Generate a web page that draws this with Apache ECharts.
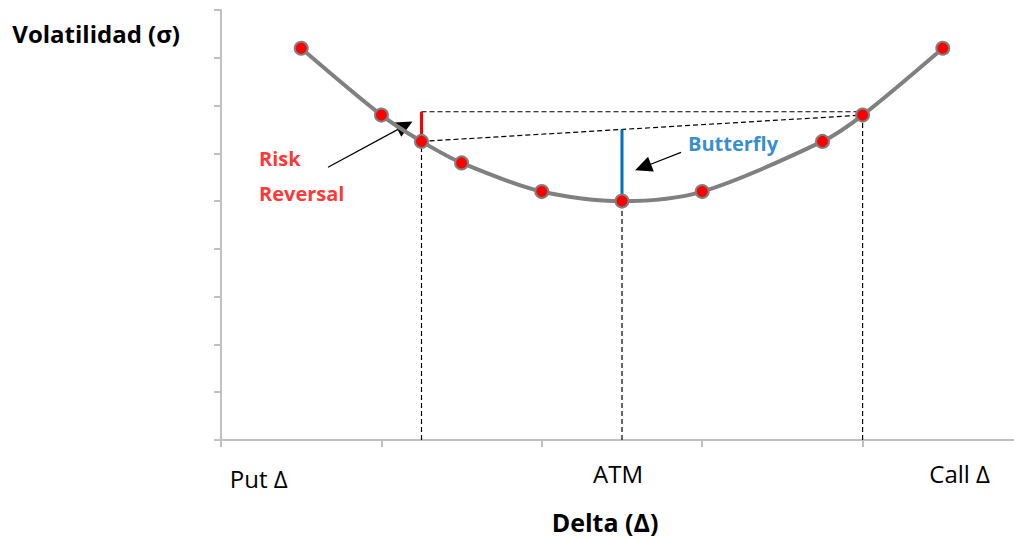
<!DOCTYPE html>
<html><head><meta charset="utf-8">
<script src="https://cdn.jsdelivr.net/npm/echarts@6/dist/echarts.min.js"></script>
<style>html,body{margin:0;padding:0;background:#fff;overflow:hidden}#c{width:1023px;height:539px}</style>
</head><body><div id="c"></div>
<script>
// Smile curve (delta position, volatility)
const smileX = [1, 2, 2.5, 3, 4, 5, 6, 7.5, 8, 9];
const smileY = [8.2, 6.8, 6.25, 5.8, 5.2, 5.0, 5.2, 6.25, 6.8, 8.2];
// x-axis tick labels and their positions
const xLabelText = ['Put Δ', 'ATM', 'Call Δ'];
const xLabelPos = [0.47, 4.95, 9.21];
// guide lines
const put25 = [2.5, 6.25];
const call25 = [8, 6.8];
const atm = [5, 5.0];
const topGuideY = 6.87;
const bflyTopY = 6.5;
// annotation arrows [fromX, fromY, toX, toY]
const rrArrow = [1.334, 5.71, 2.294, 6.58];
const bfArrow = [5.736, 6.02, 5.262, 5.71];
// annotation texts [x, y]
const rrTextPos = [0.474, 5.53];
const bfTextPos = [5.823, 6.21];

const FONT = "'Open Sans', 'Noto Sans', sans-serif";
const chart = echarts.init(document.getElementById('c'), null, {renderer: 'svg'});

const dashed = {color: '#000', width: 1.2, type: [5, 3]};
function seg(name, pts, style, z) {
  return {name, type: 'line', data: pts, showSymbol: false, symbol: 'none', lineStyle: style, z: z || 2, silent: true};
}

const option = {
  animation: false,
  grid: {left: 221, right: 0, top: 10, bottom: 97.3, containLabel: false},
  xAxis: {
    type: 'value', min: 0, max: 10, interval: 2,
    name: 'Delta (Δ)', nameLocation: 'middle', nameGap: 69,
    nameTextStyle: {fontFamily: FONT, fontWeight: 'bold', fontSize: 25, color: '#000', padding: [0, 34, 0, 0]},
    axisLine: {show: true, onZero: false, lineStyle: {color: '#c0c0c0', width: 2}},
    axisTick: {show: true, length: 7, lineStyle: {color: '#c0c0c0', width: 2}},
    splitLine: {show: false},
    axisLabel: {
      show: true, customValues: xLabelPos, margin: 21,
      fontFamily: FONT, fontSize: 24, color: '#000',
      formatter: function (v) {
        const i = xLabelPos.indexOf(v);
        const t = i >= 0 ? xLabelText[i] : '';
        return i === 0 ? '{low|' + t + '}' : t;
      },
      rich: {low: {fontFamily: FONT, fontSize: 24, color: '#000', padding: [5, 0, 0, 0]}}
    }
  },
  yAxis: {
    type: 'value', min: 0, max: 9, interval: 1,
    name: 'Volatilidad (σ)', nameLocation: 'end', nameGap: -23,
    nameTextStyle: {fontFamily: FONT, fontWeight: 'bold', fontSize: 24, color: '#000', align: 'right', verticalAlign: 'middle', padding: [0, 41, 0, 0]},
    axisLine: {show: true, lineStyle: {color: '#c0c0c0', width: 2}},
    axisTick: {show: true, length: 7, lineStyle: {color: '#c0c0c0', width: 2}},
    axisLabel: {show: false},
    splitLine: {show: false}
  },
  series: [
    seg('putGuide', [[put25[0], 0], put25], dashed),
    seg('atmGuide', [[atm[0], 0], atm], dashed),
    seg('callGuide', [[call25[0], 0], call25], dashed),
    seg('topGuide', [[put25[0], topGuideY], [call25[0], topGuideY]], dashed),
    seg('wingLine', [put25, call25], dashed),
    seg('riskReversal', [[put25[0], topGuideY], put25], {color: '#ff0000', width: 3}, 3),
    seg('butterfly', [[atm[0], bflyTopY], atm], {color: '#0070c0', width: 3}, 3),
    {
      name: 'arrows', type: 'line', data: [], silent: true,
      markLine: {
        silent: true, symbol: ['none', 'triangle'], symbolSize: [16, 17],
        label: {show: false},
        lineStyle: {color: '#000', width: 1.2, type: 'solid'},
        itemStyle: {color: '#000'},
        data: [
          [{coord: [rrArrow[0], rrArrow[1]]}, {coord: [rrArrow[2], rrArrow[3]]}],
          [{coord: [bfArrow[0], bfArrow[1]]}, {coord: [bfArrow[2], bfArrow[3]]}]
        ]
      }
    },
    {
      name: 'smile', type: 'line', z: 5,
      data: smileX.map((x, i) => [x, smileY[i]]),
      smooth: 0.3,
      lineStyle: {color: '#808080', width: 4},
      symbol: 'circle', symbolSize: 13, showSymbol: true,
      itemStyle: {color: '#ff0000', borderColor: '#808080', borderWidth: 2}
    },
    {
      name: 'labels', type: 'scatter', symbolSize: 0, z: 6, silent: true,
      data: [
        {value: rrTextPos, label: {formatter: 'Risk\nReversal', color: '#ff0000', lineHeight: 35}},
        {value: bfTextPos, label: {formatter: 'Butterfly', color: '#0070c0'}}
      ],
      label: {show: true, position: 'right', distance: 0, align: 'left', verticalAlign: 'middle', fontFamily: FONT, fontWeight: 'bold', fontSize: 20}
    }
  ]
};
chart.setOption(option);
</script></body></html>
